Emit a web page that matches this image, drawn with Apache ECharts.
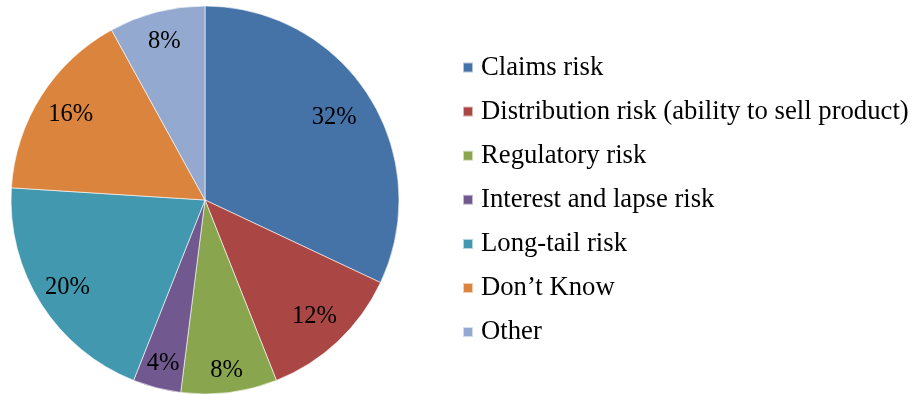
<!DOCTYPE html>
<html><head><meta charset="utf-8">
<script src="https://cdn.jsdelivr.net/npm/echarts@6/dist/echarts.min.js"></script>
<style>html,body{margin:0;padding:0;background:#fff}#c{width:913px;height:394px}</style>
</head><body><div id="c"></div>
<script>
const categories = ["Claims risk","Distribution risk (ability to sell product)","Regulatory risk","Interest and lapse risk","Long-tail risk","Don\u2019t Know","Other"];
const values = [32,12,8,4,20,16,8];
const colors = ["#4572A7","#AA4643","#89A54E","#71588F","#4198AF","#DB843D","#93A9CF"];
// radial nudge (px) of each percentage label, relative to the common label ring
const labelNudge = [-10,-3,9,6,0,-4,1];
const chart = echarts.init(document.getElementById('c'));
const font = "'Liberation Serif','Times New Roman',serif";
const total = values.reduce((a,b)=>a+b,0);
let acc = 0;
const labelData = categories.map((n,i)=>{
  const mid = (acc + values[i]/2)/total*2*Math.PI; acc += values[i];
  const d = labelNudge[i];
  return {name:n+' ',value:values[i],label:{offset:[d*Math.sin(mid), -d*Math.cos(mid)]}};
});
const data = categories.map((n,i)=>({name:n,value:values[i],itemStyle:{color:colors[i]}}));
chart.setOption({
  animation:false,
  legend:{orient:'vertical',left:457,top:49,itemWidth:10,itemHeight:10,itemGap:17.1,icon:'rect',
    textStyle:{fontFamily:font,fontSize:26.7,lineHeight:26.7,color:'#000',padding:[0,0,0,3]},data:categories},
  series:[
    {type:'pie',center:[205,200],radius:194,startAngle:90,clockwise:true,
     itemStyle:{borderColor:'rgba(255,255,255,0.6)',borderWidth:1},
     label:{show:false},labelLine:{show:false},emphasis:{disabled:true},data:data},
    {type:'pie',center:[205,200],radius:[126,194],startAngle:90,clockwise:true,silent:true,
     itemStyle:{color:'transparent'},legendHoverLink:false,
     label:{show:true,position:'inside',formatter:'{c}%',fontFamily:font,fontSize:24.5,color:'#000'},
     labelLine:{show:false},
     data:labelData}
  ]
});
</script></body></html>
